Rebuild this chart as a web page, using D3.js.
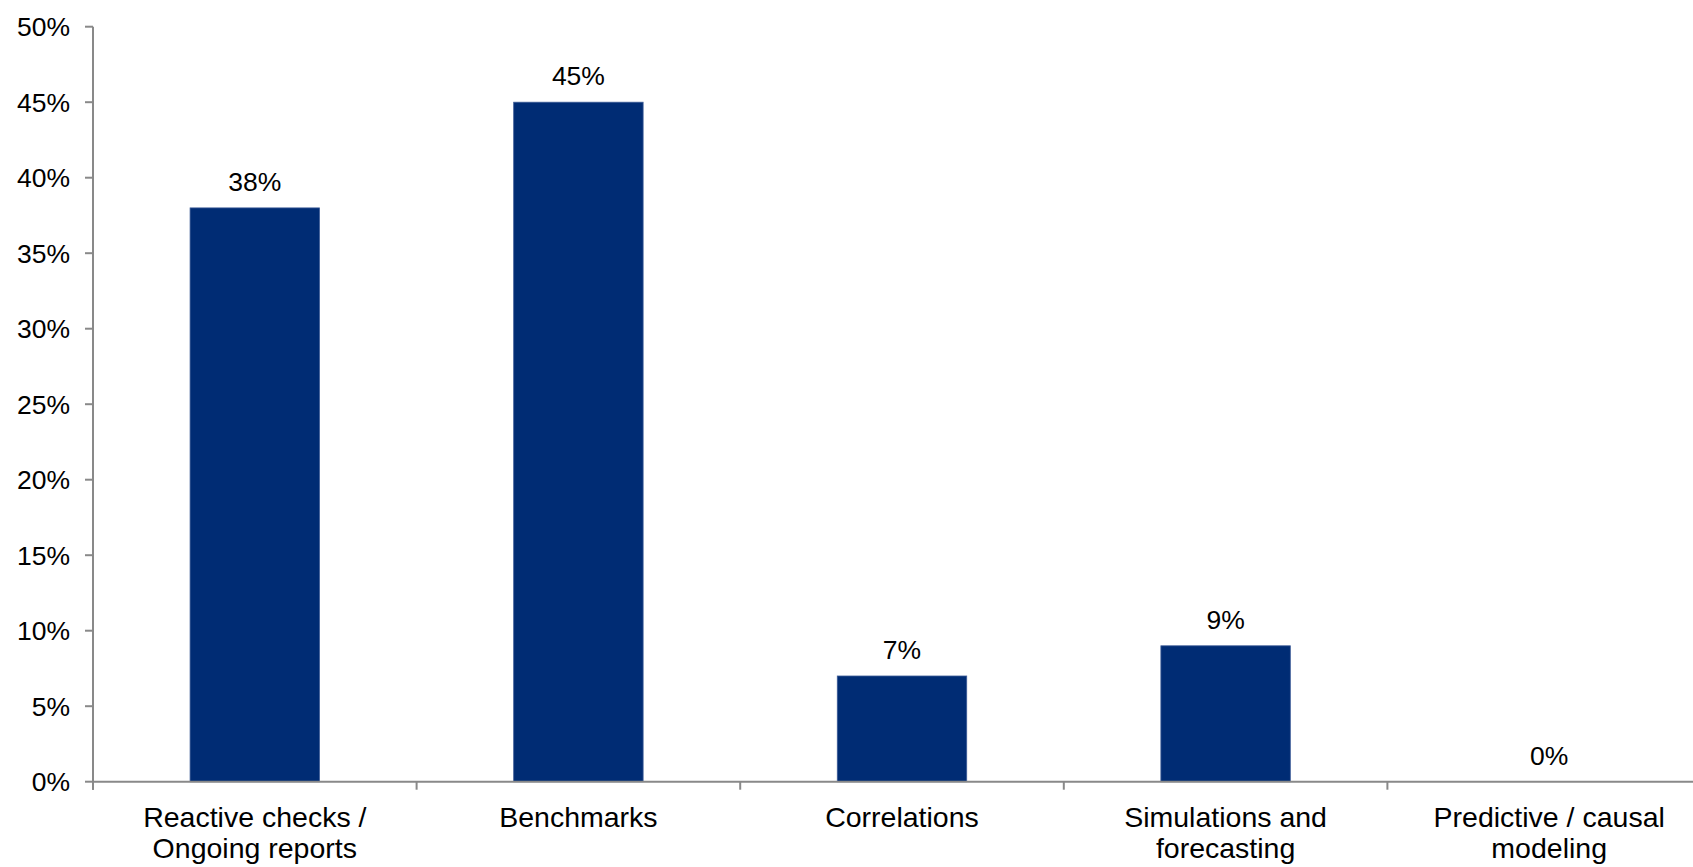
<!DOCTYPE html>
<html>
<head>
<meta charset="utf-8">
<script src="https://cdn.jsdelivr.net/npm/d3@7"></script>
<style>
  html, body { margin: 0; padding: 0; background: #fff; }
  svg { display: block; }
  text { font-family: "Liberation Sans", Arial, sans-serif; fill: #000; }
</style>
</head>
<body>
<div id="chart"></div>
<script>
// chart values
const categories = [
  ["Reactive checks /", "Ongoing reports"],
  ["Benchmarks"],
  ["Correlations"],
  ["Simulations and", "forecasting"],
  ["Predictive / causal", "modeling"]
];
const shares = [38, 45, 7, 9, 0];
const yTicks = [0, 5, 10, 15, 20, 25, 30, 35, 40, 45, 50];

const width = 1693;
const height = 867;
const axisColor = "#898989";
const barColor = "#002c74";

const svg = d3
  .select("#chart")
  .append("svg")
  .attr("width", width)
  .attr("height", height);

// the plot runs past the right edge of the picture, like the original
const x = d3
  .scaleBand()
  .domain(d3.range(categories.length))
  .range([93, 1711])
  .paddingInner(0.6)
  .paddingOuter(0.3);

const y = d3.scaleLinear().domain([0, 50]).range([781.7, 26.7]);

// bars
svg
  .selectAll("rect.bar")
  .data(shares)
  .enter()
  .append("rect")
  .attr("class", "bar")
  .attr("x", (d, i) => x(i))
  .attr("y", (d) => y(d))
  .attr("width", x.bandwidth())
  .attr("height", (d) => y(0) - y(d))
  .attr("fill", barColor)
  .attr("stroke", (d) => (d > 0 ? "#3d5c97" : "none"))
  .attr("stroke-width", 0.8);

// value labels
svg
  .selectAll("text.value")
  .data(shares)
  .enter()
  .append("text")
  .attr("class", "value")
  .attr("x", (d, i) => x(i) + x.bandwidth() / 2)
  .attr("y", (d) => y(d) - 17)
  .attr("text-anchor", "middle")
  .style("font-size", "26.5px")
  .text((d) => d + "%");

// y axis
const yAxis = svg.append("g").attr("transform", "translate(93,0)");
yAxis
  .append("line")
  .attr("x1", 0)
  .attr("x2", 0)
  .attr("y1", y(50))
  .attr("y2", y(0) + 8)
  .attr("stroke", axisColor)
  .attr("stroke-width", 2);

yAxis
  .selectAll("line.tick")
  .data(yTicks)
  .enter()
  .append("line")
  .attr("class", "tick")
  .attr("x1", -8)
  .attr("x2", 0)
  .attr("y1", (d) => y(d))
  .attr("y2", (d) => y(d))
  .attr("stroke", axisColor)
  .attr("stroke-width", 2);

yAxis
  .selectAll("text")
  .data(yTicks)
  .enter()
  .append("text")
  .attr("x", -23)
  .attr("y", (d) => y(d))
  .attr("dy", "0.36em")
  .attr("text-anchor", "end")
  .style("font-size", "26.5px")
  .text((d) => d + "%");

// x axis
const xAxis = svg.append("g").attr("transform", `translate(0,${y(0)})`);
xAxis
  .append("line")
  .attr("x1", 93)
  .attr("x2", width)
  .attr("y1", 0)
  .attr("y2", 0)
  .attr("stroke", axisColor)
  .attr("stroke-width", 2);

const step = x.step();
xAxis
  .selectAll("line.tick")
  .data(d3.range(categories.length))
  .enter()
  .append("line")
  .attr("class", "tick")
  .attr("x1", (i) => x(i) - step * 0.3)
  .attr("x2", (i) => x(i) - step * 0.3)
  .attr("y1", 0)
  .attr("y2", 8)
  .attr("stroke", axisColor)
  .attr("stroke-width", 2);

const catLabels = xAxis
  .selectAll("text")
  .data(categories)
  .enter()
  .append("text")
  .attr("x", (d, i) => x(i) + x.bandwidth() / 2)
  .attr("y", 45)
  .attr("text-anchor", "middle")
  .style("font-size", "28.5px");

catLabels
  .selectAll("tspan")
  .data((d) => d)
  .enter()
  .append("tspan")
  .attr("x", function () {
    return d3.select(this.parentNode).attr("x");
  })
  .attr("dy", (d, j) => (j === 0 ? 0 : 31.5))
  .text((d) => d);
</script>
</body>
</html>
